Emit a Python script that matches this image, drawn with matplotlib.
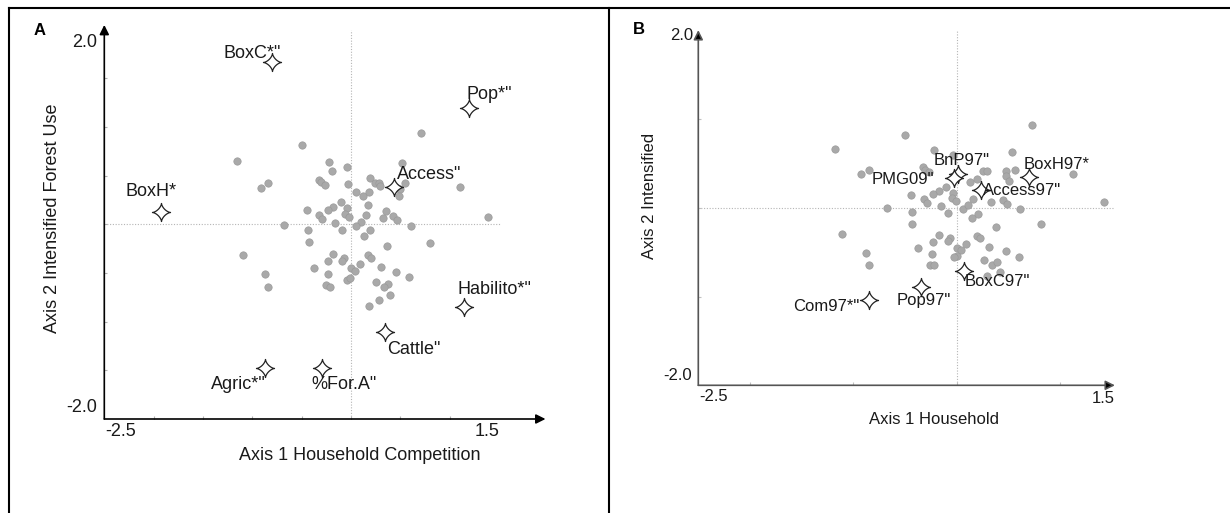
import numpy as np
import matplotlib
matplotlib.use("Agg")
import matplotlib.pyplot as plt
from matplotlib.path import Path
from matplotlib.lines import Line2D

plt.rcParams['font.family'] = ['Liberation Sans', 'DejaVu Sans']

# ---------------- data ----------------
# Panel A: sample (household) scores
a_dots_x = [0.709, -0.493, -0.223, -0.189, -0.044, 0.520, -0.909, -0.845, -0.328, -0.307,
            -0.264, -0.030, 0.193, 0.243, 0.284, 0.290, 0.551, 0.466, 0.500, 0.483,
            0.051, 0.122, 0.186, 0.169, -0.101, -0.182, -0.233, -0.044, -0.446, -0.321,
            -0.291, -0.057, -0.017, -0.162, 0.101, 0.149, 0.051, 0.358, 0.324, 0.429,
            0.466, 0.605, -0.676, -0.439, -0.088, 0.193, 0.132, -0.429, 0.361, 0.795,
            -0.179, -0.230, -0.068, -0.095, 0.176, 0.203, 0.088, 0.000, 0.037, -0.375,
            0.304, 0.456, 0.588, -0.872, -0.845, -0.230, -0.257, -0.216, -0.044, -0.007,
            0.250, 0.378, 0.334, 0.284, 0.399, 0.179, -1.158, -1.090, 1.100, 1.390]
a_dots_y = [0.935, 0.818, 0.644, 0.548, 0.592, 0.627, 0.370, 0.421, 0.455, 0.435,
            0.408, 0.414, 0.476, 0.428, 0.421, 0.394, 0.428, 0.370, 0.360, 0.295,
            0.329, 0.288, 0.329, 0.199, 0.229, 0.182, 0.147, 0.164, 0.147, 0.092,
            0.051, 0.103, 0.072, 0.017, 0.024, 0.092, -0.021, 0.140, 0.065, 0.086,
            0.048, -0.021, -0.003, -0.055, -0.062, -0.062, -0.116, -0.185, -0.219, -0.190,
            -0.305, -0.377, -0.342, -0.377, -0.318, -0.342, -0.404, -0.445, -0.476, -0.445,
            -0.435, -0.490, -0.545, -0.514, -0.647, -0.514, -0.627, -0.644, -0.568, -0.551,
            -0.596, -0.613, -0.647, -0.774, -0.726, -0.839, 0.654, -0.310, 0.385, 0.076]

# Panel A: variables (stars)
a_vars = ['BoxC*"', 'Pop*"', 'Access"', 'BoxH*', 'Habilito*"', 'Cattle"', 'Agric*"', '%For.A"']
a_vars_x = [-0.80, 1.20, 0.435, -1.93, 1.146, 0.347, -0.871, -0.291]
a_vars_y = [1.67, 1.20, 0.38, 0.124, -0.847, -1.105, -1.48, -1.48]
a_lab_x = [-1.006, 1.405, 0.794, -2.028, 1.453, 0.639, -1.142, -0.075]
a_lab_y = [1.76, 1.339, 0.516, 0.334, -0.674, -1.284, -1.650, -1.650]

# Panel B: sample scores
b_dots_x = [0.735, -0.500, -1.174, -0.219, -0.035, 0.539, -0.926, -0.852, -0.323, -0.303,
            -0.268, 0.255, 0.297, 0.481, 0.561, 0.477, 0.503, 0.200, 0.126, -0.100,
            -0.174, -0.229, -0.035, -0.442, -0.316, -0.290, -0.045, -0.010, -0.155, 0.061,
            0.113, 0.155, 0.335, 0.445, 0.490, 0.619, -0.677, -0.435, -0.084, 0.206,
            0.148, -0.432, 0.384, 0.816, -1.113, -0.171, -0.068, -0.084, -0.226, 0.194,
            0.223, 0.090, -0.374, 0.000, 0.042, -0.235, 0.006, -0.029, 0.316, 0.477,
            0.606, -0.874, -0.852, -0.261, -0.219, 0.261, 0.348, 0.394, 0.423, 0.294,
            1.430, 1.127]
b_dots_y = [0.935, 0.815, 0.661, 0.646, 0.597, 0.627, 0.379, 0.428, 0.458, 0.428,
            0.405, 0.417, 0.409, 0.409, 0.428, 0.360, 0.297, 0.323, 0.293, 0.229,
            0.188, 0.154, 0.165, 0.146, 0.098, 0.056, 0.109, 0.079, 0.015, -0.015,
            0.026, 0.098, 0.064, 0.090, 0.045, -0.011, 0.000, -0.049, -0.060, -0.071,
            -0.120, -0.184, -0.221, -0.184, -0.293, -0.308, -0.342, -0.375, -0.387, -0.319,
            -0.338, -0.409, -0.450, -0.458, -0.480, -0.518, -0.541, -0.556, -0.439, -0.492,
            -0.552, -0.510, -0.642, -0.642, -0.649, -0.589, -0.649, -0.612, -0.724, -0.773,
            0.068, 0.380]

# Panel B: variables (stars)
b_vars = ['BnP97"', 'PMG09"', 'Access97"', 'BoxH97*', 'BoxC97"', 'Pop97"', 'Com97*"']
b_vars_x = [0.010, -0.026, 0.232, 0.705, 0.071, -0.347, -0.849]
b_vars_y = [0.380, 0.331, 0.199, 0.350, -0.713, -0.897, -1.045]
b_lab_x = [0.048, -0.523, 0.632, 0.966, 0.393, -0.317, -1.260]
b_lab_y = [0.529, 0.323, 0.199, 0.492, -0.833, -1.040, -1.118]

a_ticks = [-2.0, -1.5, -1.0, -0.5, 0.0, 0.5, 1.0]
a_yticks = [-1.5, -1.0, -0.5, 0.0, 0.5, 1.0, 1.5]
b_ticks = [-2.0, -1.0, 0.0, 1.0]
b_yticks = [-1.0, 0.0, 1.0]
tick_labels = ['2.0', '-2.0', '-2.5', '1.5']

a_title_x = 'Axis 1 Household Competition'
a_title_y = 'Axis 2 Intensified Forest Use'
b_title_x = 'Axis 1 Household'
b_title_y = 'Axis 2 Intensified'

# ---------------- figure ----------------
W, H = 1230, 513
fig = plt.figure(figsize=(W / 100, H / 100), dpi=100)
fig.patch.set_facecolor('white')


def ax_from_pixels(x0px, sx, y0px, sy, xlim, ylim):
    left = x0px
    right = x0px + (xlim[1] - xlim[0]) * sx
    bottom = y0px
    top = y0px - (ylim[1] - ylim[0]) * sy
    ax = fig.add_axes([left / W, 1 - bottom / H, (right - left) / W, (bottom - top) / H])
    ax.set_xlim(*xlim)
    ax.set_ylim(*ylim)
    ax.axis('off')
    return ax


t = np.linspace(0, 2 * np.pi, 81)
star_verts = np.column_stack([np.cos(t) ** 3, np.sin(t) ** 3])
star = Path(star_verts, closed=True)

TXT = '#1a1a1a'


def draw_panel(ax, dx, dy, vx, vy, names, lx, ly, ticks_x, ticks_y,
               x_end, y_end, axis_col, tickcol, fs):
    x0 = -2.5
    y0, y1 = -2.0, 2.0
    ax.plot([x0, 1.52], [0, 0], ls=(0, (1, 1.5)), color='#b5b5b5', lw=0.8, zorder=1)
    ax.plot([0, 0], [y0, y1], ls=(0, (1, 1.5)), color='#b5b5b5', lw=0.8, zorder=1)
    ax.annotate('', xy=(x_end, y0), xytext=(x0, y0),
                arrowprops=dict(arrowstyle='-|>', color=axis_col, lw=1.2,
                                shrinkA=0, shrinkB=0, mutation_scale=14,
                                fc='black', ec=axis_col), zorder=3)
    ax.annotate('', xy=(x0, y_end), xytext=(x0, y0),
                arrowprops=dict(arrowstyle='-|>', color=axis_col, lw=1.2,
                                shrinkA=0, shrinkB=0, mutation_scale=14,
                                fc='black', ec=axis_col), zorder=3)
    ax.plot(ticks_x, [y0] * len(ticks_x),
            ls='none', marker='|', ms=5, mew=0.8, color=tickcol, zorder=2)
    ax.plot([x0] * len(ticks_y), ticks_y, ls='none', marker='_', ms=5, mew=0.8,
            color=tickcol, zorder=2)
    ax.scatter(dx, dy, s=28, c='#a9a9a9', edgecolors='#9a9a9a', linewidths=0.5, zorder=4)
    ax.plot(vx, vy, ls='none', marker=star, ms=13, mfc='white', mec='#222222',
            mew=0.9, zorder=5)
    for n, x, y in zip(names, lx, ly):
        ax.text(x, y, n, ha='center', va='center', fontsize=fs, color=TXT, zorder=6)


FSA = 13
FSB = 12

# Panel A
axA = ax_from_pixels(104.3, 98.7, 419.0, 97.3, (-2.5, 2.1), (-2.0, 2.12))
draw_panel(axA, a_dots_x, a_dots_y, a_vars_x, a_vars_y, a_vars, a_lab_x, a_lab_y,
           a_ticks, a_yticks, 1.97, 2.05, 'black', '#b0b0b0', FSA)
axA.annotate(tick_labels[0], xy=(-2.5, 2.0), xytext=(-7, -13), textcoords='offset pixels',
             ha='right', va='center', fontsize=FSA, color=TXT)
axA.annotate(tick_labels[1], xy=(-2.5, -2.0), xytext=(-7, 11), textcoords='offset pixels',
             ha='right', va='center', fontsize=FSA, color=TXT)
axA.annotate(tick_labels[2], xy=(-2.5, -2.0), xytext=(1, -12), textcoords='offset pixels',
             ha='left', va='center', fontsize=FSA, color=TXT)
axA.annotate(tick_labels[3], xy=(1.5, -2.0), xytext=(0, -12), textcoords='offset pixels',
             ha='right', va='center', fontsize=FSA, color=TXT)

# Panel B
axB = ax_from_pixels(698.3, 103.3, 385.3, 88.8, (-2.5, 1.7), (-2.0, 2.12))
draw_panel(axB, b_dots_x, b_dots_y, b_vars_x, b_vars_y, b_vars, b_lab_x, b_lab_y,
           b_ticks, b_yticks, 1.533, 2.0, '#555555', '#c0c0c0', FSB)
axB.annotate(tick_labels[0], xy=(-2.5, 2.0), xytext=(-5, -5), textcoords='offset pixels',
             ha='right', va='center', fontsize=FSB, color=TXT)
axB.annotate(tick_labels[1], xy=(-2.5, -2.0), xytext=(-6, 10), textcoords='offset pixels',
             ha='right', va='center', fontsize=FSB, color=TXT)
axB.annotate(tick_labels[2], xy=(-2.5, -2.0), xytext=(1, -11), textcoords='offset pixels',
             ha='left', va='center', fontsize=FSB, color=TXT)
axB.annotate(tick_labels[3], xy=(1.5, -2.0), xytext=(3, -13), textcoords='offset pixels',
             ha='right', va='center', fontsize=FSB, color=TXT)


def ftext(xp, yp, s, **kw):
    fig.text(xp / W, 1 - yp / H, s, **kw)


ftext(360, 455, a_title_x, ha='center', va='center', fontsize=FSA, color=TXT)
ftext(53, 218, a_title_y, ha='center', va='center', rotation=90, fontsize=FSA, color=TXT)
ftext(934, 419, b_title_x, ha='center', va='center', fontsize=FSB, color=TXT)
ftext(650, 196, b_title_y, ha='center', va='center', rotation=90, fontsize=FSB, color=TXT)
ftext(40, 31, 'A', ha='center', va='center', fontsize=12, fontweight='bold', color='black')
ftext(639, 29, 'B', ha='center', va='center', fontsize=12, fontweight='bold', color='black')

lw = 1.5
fig.add_artist(Line2D([8.5 / W, 1], [1 - 7.5 / H, 1 - 7.5 / H], color='black', lw=lw,
                      transform=fig.transFigure))
fig.add_artist(Line2D([8.5 / W, 8.5 / W], [1 - 7.5 / H, 0], color='black', lw=lw,
                      transform=fig.transFigure))
fig.add_artist(Line2D([609 / W, 609 / W], [1 - 7.5 / H, 0], color='black', lw=lw,
                      transform=fig.transFigure))

fig.savefig('out.png', dpi=100, facecolor='white')
